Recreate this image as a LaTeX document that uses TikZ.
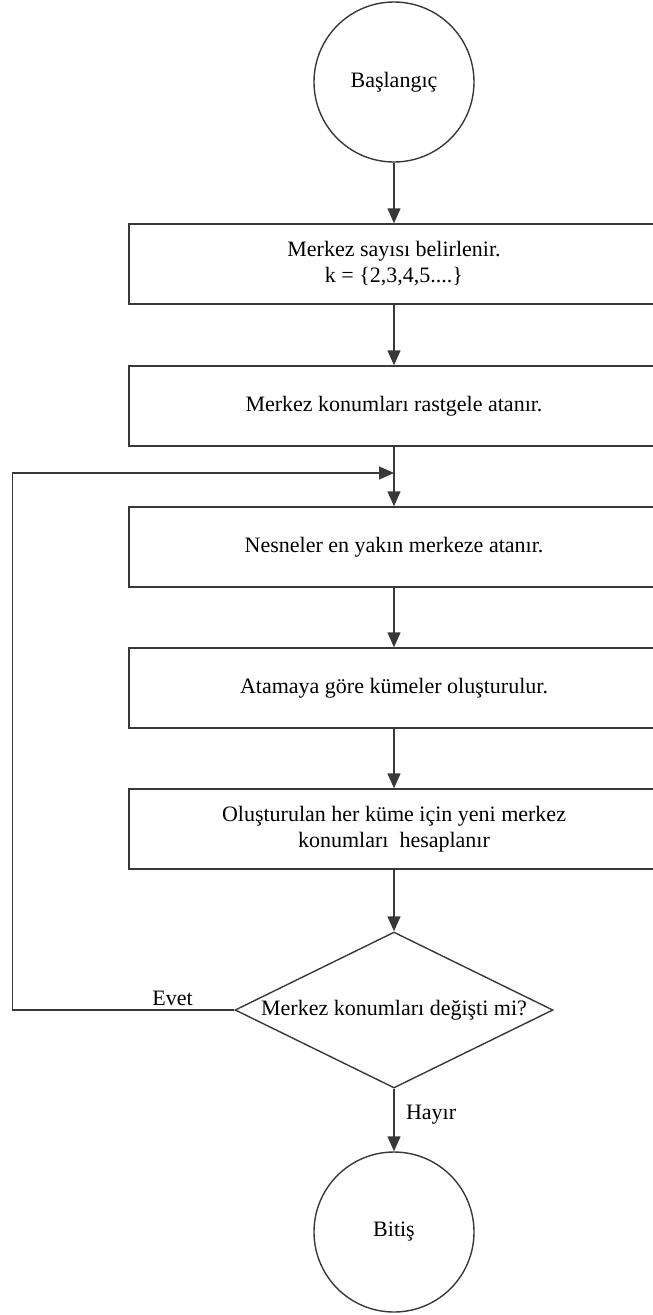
\documentclass[tikz,border=0pt]{standalone}
\usepackage{fontspec}
\setmainfont{Liberation Serif}
\usetikzlibrary{shapes.geometric,arrows.meta}
\begin{document}
\begin{tikzpicture}[x=1pt,y=-1pt,
  every node/.style={font=\fontsize{22}{26}\selectfont, text=black},
  ln/.style={draw=black!78, line width=1.4pt},
  arr/.style={ln, -{Triangle[length=15pt,width=13pt]}},
  term/.style={ln, circle, minimum size=160, inner sep=0pt},
  procbox/.style={ln, rectangle, minimum width=530, minimum height=80, inner sep=0pt, align=center},
  decision/.style={ln, diamond, aspect=2.04, minimum width=318, minimum height=156, inner sep=0pt}]
  \useasboundingbox (0,0) rectangle (653,1315);
  \clip (0,0) rectangle (653,1315);

  % terminals, process steps and the decision
  \node[term]     (start) at (394,82)   {Başlangıç};
  \node[procbox]  (b1)    at (394,264)  {Merkez sayısı belirlenir.\\k = \{2,3,4,5....\}};
  \node[procbox]  (b2)    at (394,406)  {Merkez konumları rastgele atanır.};
  \node[procbox]  (b3)    at (394,547)  {Nesneler en yakın merkeze atanır.};
  \node[procbox]  (b4)    at (394,688)  {Atamaya göre kümeler oluşturulur.};
  \node[procbox]  (b5)    at (394,829)  {Oluşturulan her küme için yeni merkez\\konumları\ \ hesaplanır};
  \node[decision] (dia)   at (394,1010) {Merkez konumları değişti mi?};
  \node[term]     (stop)  at (394,1232) {Bitiş};

  % helper points of the feedback loop
  \coordinate (join) at (394,473);
  \coordinate (lx)   at (12.5,0);

  % main flow
  \draw[arr] (start.south) -- (b1.north);
  \draw[arr] (b1.south) -- (b2.north);
  \draw[arr] (b2.south) -- (b3.north);
  \draw[arr] (b3.south) -- (b4.north);
  \draw[arr] (b4.south) -- (b5.north);
  \draw[arr] (b5.south) -- (dia.north);
  \draw[arr] (dia.south) -- node[right=8pt, pos=0.42] (no) {Hayır} (stop.north);

  % "yes" branch back to the assignment step
  \draw[arr] (dia.west) -- (dia.west -| lx) |- (join);
  \node[anchor=south east, inner sep=1pt] (yes) at (194,1007) {Evet};
\end{tikzpicture}
\end{document}
